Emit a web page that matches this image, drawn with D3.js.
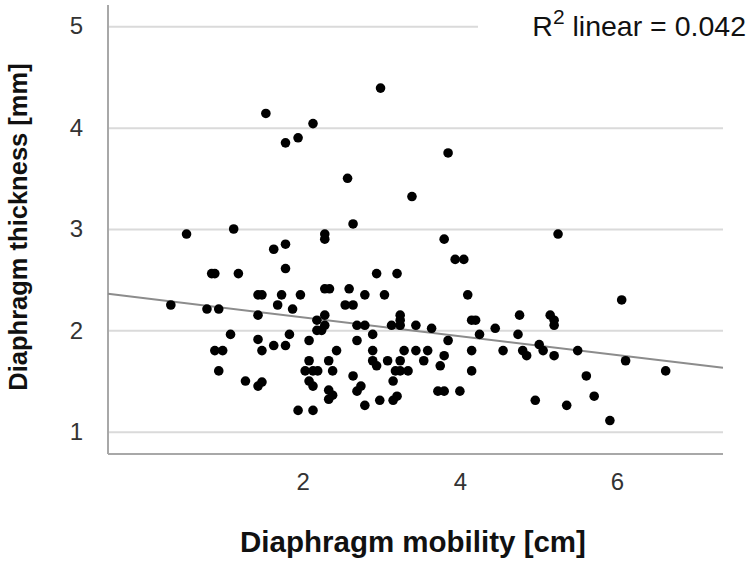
<!DOCTYPE html>
<html>
<head>
<meta charset="utf-8">
<script src="https://cdn.jsdelivr.net/npm/d3@7"></script>
<style>
  body { margin: 0; background: #fff; }
  svg { display: block; font-family: "Liberation Sans", Arial, Helvetica, sans-serif; }
</style>
</head>
<body>
<svg id="chart" width="750" height="562"></svg>
<script>
// diaphragm mobility (cm) vs thickness (mm)
const mobility = [
  1.53, 1.78, 1.94, 2.13, 2.57, 2.99, 3.85, 3.39, 0.52, 1.12,
  1.63, 1.78, 1.78, 0.84, 0.88, 1.18, 1.43, 1.48, 1.73, 1.97,
  1.68, 0.32, 0.78, 0.93, 1.87, 1.43, 2.64, 2.28, 2.28, 3.80,
  3.94, 4.05, 2.94, 3.20, 2.28, 2.34, 2.59, 2.79, 3.04, 4.10,
  2.54, 2.64, 4.15, 4.20, 2.28, 3.24, 3.24, 3.24, 2.18, 2.28,
  2.69, 2.79, 3.13, 3.44, 3.64, 4.45, 4.76, 5.25, 6.06, 5.15,
  5.20, 5.20, 2.18, 2.24, 1.08, 0.88, 0.98, 1.43, 1.48, 1.63,
  1.78, 1.83, 2.08, 2.08, 2.03, 2.13, 2.19, 0.93, 1.27, 1.43,
  1.48, 2.08, 2.13, 1.94, 2.13, 2.69, 2.89, 2.89, 2.43, 3.29,
  3.44, 3.59, 3.85, 3.80, 3.54, 3.75, 4.15, 4.15, 4.25, 4.55,
  4.74, 2.33, 2.38, 2.33, 2.38, 2.33, 2.64, 2.69, 2.74, 2.79,
  2.89, 2.94, 3.08, 3.24, 3.18, 3.24, 3.34, 3.15, 2.98, 3.15,
  3.20, 3.72, 3.80, 4.00, 4.80, 4.85, 5.01, 5.06, 5.20, 5.50,
  6.11, 6.62, 5.61, 5.71, 4.96, 5.36, 5.91
]
const thickness = [
  4.14, 3.85, 3.90, 4.04, 3.50, 4.39, 3.75, 3.32, 2.95, 3.00,
  2.80, 2.85, 2.61, 2.56, 2.56, 2.56, 2.35, 2.35, 2.35, 2.35,
  2.25, 2.25, 2.21, 2.21, 2.21, 2.15, 3.05, 2.95, 2.90, 2.90,
  2.70, 2.70, 2.56, 2.56, 2.41, 2.41, 2.41, 2.35, 2.35, 2.35,
  2.25, 2.25, 2.10, 2.10, 2.15, 2.15, 2.10, 2.05, 2.10, 2.05,
  2.05, 2.05, 2.05, 2.05, 2.02, 2.02, 2.15, 2.95, 2.30, 2.15,
  2.10, 2.05, 2.00, 2.00, 1.96, 1.80, 1.80, 1.91, 1.80, 1.85,
  1.85, 1.96, 1.90, 1.70, 1.60, 1.60, 1.60, 1.60, 1.50, 1.45,
  1.49, 1.50, 1.45, 1.21, 1.21, 1.90, 1.96, 1.80, 1.80, 1.80,
  1.80, 1.80, 1.90, 1.75, 1.70, 1.65, 1.80, 1.60, 1.96, 1.80,
  1.96, 1.70, 1.60, 1.41, 1.36, 1.32, 1.55, 1.40, 1.45, 1.26,
  1.70, 1.65, 1.70, 1.70, 1.60, 1.60, 1.60, 1.50, 1.31, 1.31,
  1.35, 1.40, 1.40, 1.40, 1.80, 1.75, 1.86, 1.80, 1.75, 1.80,
  1.70, 1.60, 1.55, 1.35, 1.31, 1.26, 1.11
]
const xTicks = [2, 4, 6]
const yTicks = [1, 2, 3, 4, 5]
// fit line, thickness at the left and right edge of the plot
const fitThickness = [2.36, 1.63]
const rSquared = "0.042"

const svg = d3.select("#chart")
const plot = { left: 108, right: 723, top: 5, bottom: 454 }

const x = d3.scaleLinear().domain([-0.48, 7.35]).range([plot.left, plot.right])
const y = d3.scaleLinear().domain([0.78, 5.21]).range([plot.bottom, plot.top])

// gridlines
svg.append("g")
  .attr("transform", `translate(${plot.left},0)`)
  .call(d3.axisLeft(y).tickValues(yTicks).tickSize(-(plot.right - plot.left)).tickFormat(""))
  .call(g => g.select(".domain").remove())
  .call(g => g.selectAll(".tick line").attr("stroke", "#dadada").attr("stroke-width", 2))

// y tick labels
svg.append("g")
  .attr("transform", `translate(${plot.left},0)`)
  .call(d3.axisLeft(y).tickValues(yTicks).tickFormat(d3.format("d")).tickSize(0).tickPadding(25))
  .call(g => g.select(".domain").remove())
  .call(g => g.selectAll("text").attr("font-size", 24).attr("fill", "#333")
    .attr("font-family", "'Liberation Sans', Arial, sans-serif"))

// x tick labels
svg.append("g")
  .attr("transform", `translate(0,${plot.bottom})`)
  .call(d3.axisBottom(x).tickValues(xTicks).tickFormat(d3.format("d")).tickSize(0).tickPadding(19))
  .call(g => g.select(".domain").remove())
  .call(g => g.selectAll("text").attr("font-size", 24).attr("fill", "#333")
    .attr("font-family", "'Liberation Sans', Arial, sans-serif"))

// axis lines
svg.append("line")
  .attr("x1", plot.left).attr("x2", plot.left).attr("y1", plot.top).attr("y2", plot.bottom)
  .attr("stroke", "#a8a8a8").attr("stroke-width", 2)
svg.append("line")
  .attr("x1", plot.left).attr("x2", plot.right).attr("y1", plot.bottom).attr("y2", plot.bottom)
  .attr("stroke", "#a8a8a8").attr("stroke-width", 2)

// fit line
svg.append("line")
  .attr("x1", x(x.domain()[0])).attr("y1", y(fitThickness[0]))
  .attr("x2", x(x.domain()[1])).attr("y2", y(fitThickness[1]))
  .attr("stroke", "#8c8c8c").attr("stroke-width", 2)

// points
svg.append("g")
  .selectAll("circle")
  .data(mobility.map((m, i) => [m, thickness[i]]))
  .join("circle")
  .attr("cx", d => x(d[0]))
  .attr("cy", d => y(d[1]))
  .attr("r", 4.8)
  .attr("fill", "#000")

// R² label with white box over the top gridline
svg.append("rect")
  .attr("x", 478).attr("y", 0).attr("width", 272).attr("height", 46)
  .attr("fill", "#fff")
const lab = svg.append("text")
  .attr("x", 746).attr("y", 36)
  .attr("text-anchor", "end")
  .attr("font-size", 28.5)
  .attr("fill", "#111")
lab.append("tspan").text("R")
lab.append("tspan").attr("font-size", 21).attr("dy", -12).text("2")
lab.append("tspan").attr("dy", 12).text(" linear = " + rSquared)

// axis titles
svg.append("text")
  .attr("x", 413).attr("y", 552)
  .attr("text-anchor", "middle")
  .attr("font-size", 29.5).attr("font-weight", "bold")
  .attr("fill", "#111")
  .text("Diaphragm mobility [cm]")

svg.append("text")
  .attr("transform", "translate(27,227) rotate(-90)")
  .attr("text-anchor", "middle")
  .attr("font-size", 25.5).attr("font-weight", "bold")
  .attr("fill", "#111")
  .text("Diaphragm thickness [mm]")
</script>
</body>
</html>
